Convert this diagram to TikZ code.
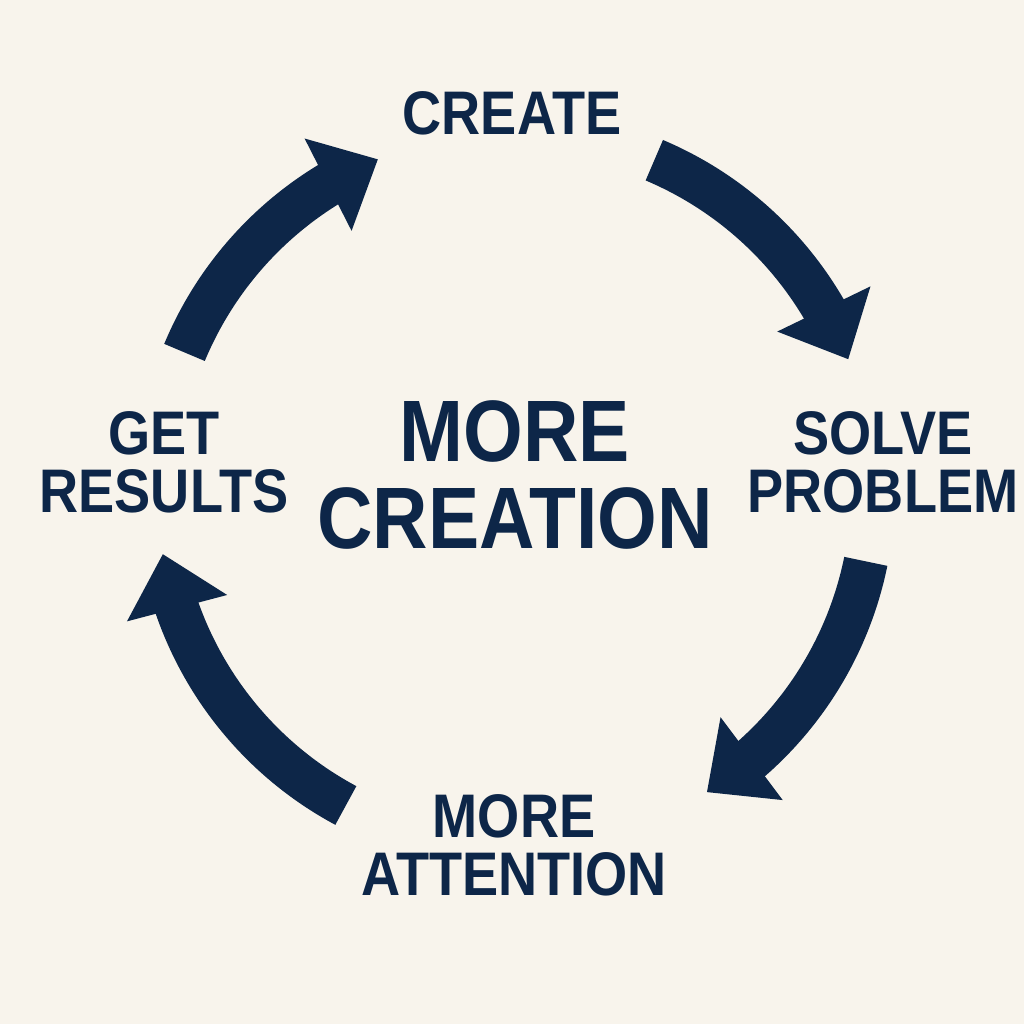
\documentclass[tikz,border=0pt]{standalone}
\usepackage{fontspec}
\setmainfont{Liberation Sans}
\newfontfamily\labelfont{Liberation Sans}[FakeStretch=0.88]
\usetikzlibrary{arrows.meta,bending,calc}
\definecolor{paper}{HTML}{F8F4EC}
\definecolor{navy}{HTML}{0D2648}
\tikzset{
  steplabel/.style={text=navy, align=center, inner sep=0pt,
    font=\labelfont\bfseries\fontsize{17.5}{16.5}\selectfont},
  centrelabel/.style={steplabel,
    font=\labelfont\bfseries\fontsize{24.8}{25}\selectfont},
  cyclearr/.style={draw=navy, line width=4.4mm,
    -{Triangle[width=10mm, length=5.6mm]}}
}
\begin{document}
\begin{tikzpicture}[x=0.01cm,y=0.01cm]
  \fill[paper] (0,0) rectangle (1024,1024);
  \coordinate (hub) at (515,534);
  \node[steplabel, anchor=base] (create) at (512,889) {CREATE};
  \node[steplabel] (solve) at (883,562) {SOLVE\\PROBLEM};
  \node[steplabel] (attention) at (514,179) {MORE\\ATTENTION};
  \node[steplabel] (results) at (164,562) {GET\\RESULTS};
  \node[centrelabel] (more) at (515,549) {MORE\\CREATION};
  % arrows round the cycle
  \foreach \name/\from/\to in {ul/157.4/112.5, ur/67.1/21.4, lr/-11.5/-57.6, ll/241.8/190.3} {
    \coordinate (\name-tail) at ($(hub)+(\from:358)$);
    \draw[cyclearr] (\name-tail) arc[start angle=\from, end angle=\to, radius=358];
  }
\end{tikzpicture}
\end{document}
